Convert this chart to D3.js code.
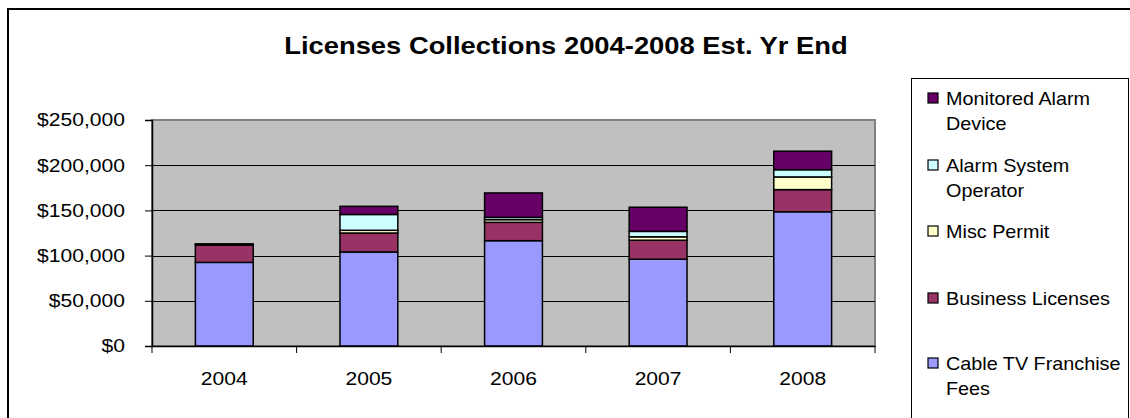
<!DOCTYPE html>
<html><head><meta charset="utf-8">
<script src="https://cdn.jsdelivr.net/npm/d3@7"></script>
<style>body{margin:0;background:#fff}svg{display:block;font-family:"Liberation Sans",Arial,sans-serif}</style>
</head><body><svg id="c" width="1130" height="418"></svg>
<script>
const years = ["2004","2005","2006","2007","2008"];
const cableTV = [92500,104000,116500,96000,148500];
const business = [19000,21000,20300,21000,24500];
const miscPermit = [0,3000,3000,3800,14000];
const alarmOperator = [300,17500,2500,6000,8000];
const monitoredAlarm = [1200,9000,27000,26700,20500];
const yTicks = [0,50000,100000,150000,200000,250000];
const seriesNames = ["Cable TV Franchise Fees","Business Licenses","Misc Permit","Alarm System Operator","Monitored Alarm Device"];
const seriesColors = ["#9999FF","#993366","#FFFFCC","#CCFFFF","#660066"];
const legendLines = [["Monitored Alarm","Device"],["Alarm System","Operator"],["Misc Permit"],["Business Licenses"],["Cable TV Franchise","Fees"]];

const seriesData = [cableTV,business,miscPermit,alarmOperator,monitoredAlarm];
const rows = years.map((y,i)=>{const r={year:y};seriesNames.forEach((n,k)=>r[n]=seriesData[k][i]);return r;});
const stack = d3.stack().keys(seriesNames)(rows);

const svg = d3.select("#c");
svg.append("rect").attr("x",8).attr("y",9).attr("width",1130).attr("height",420)
  .attr("fill","#fff").attr("stroke","#000").attr("stroke-width",2);

const L=152,R=875,T=120,B=346;
const SX=1.14;
const x = d3.scaleBand().domain(years).range([L,R]).padding(0);
const y = d3.scaleLinear().domain([0,250000]).range([B,T]);

svg.append("rect").attr("x",L).attr("y",T).attr("width",R-L).attr("height",B-T)
  .attr("fill","#C0C0C0").attr("stroke","#808080").attr("stroke-width",2);

svg.append("g").selectAll("line").data(yTicks.slice(1,-1)).join("line")
  .attr("x1",L).attr("x2",R).attr("y1",d=>Math.round(y(d))+0.5).attr("y2",d=>Math.round(y(d))+0.5)
  .attr("stroke","#000").attr("stroke-width",1);

const bw = x.bandwidth()*0.4;
svg.append("g").selectAll("g").data(stack).join("g")
  .attr("fill",(d,i)=>seriesColors[i])
  .selectAll("rect").data(d=>d).join("rect")
  .attr("x",d=>x(d.data.year)+(x.bandwidth()-bw)/2)
  .attr("y",d=>y(d[1]))
  .attr("width",bw)
  .attr("height",d=>Math.max(0,y(d[0])-y(d[1])))
  .attr("stroke","#000").attr("stroke-width",1.5);

const ya = svg.append("g").attr("transform",`translate(${L},0)`)
  .call(d3.axisLeft(y).tickValues(yTicks).tickSize(7).tickPadding(20).tickFormat(d=>"$"+d3.format(",")(d)));
ya.select(".domain").attr("stroke","#000").attr("stroke-width",1.5);
ya.selectAll(".tick text").attr("font-size",18.5).attr("fill","#000")
  .attr("font-family","Liberation Sans, Arial, sans-serif")
  .attr("x",-27/SX).attr("transform",`scale(${SX},1)`);
ya.selectAll(".tick line").attr("stroke","#000");

const xa = svg.append("g").attr("transform",`translate(0,${B})`)
  .call(d3.axisBottom(x).tickSize(0).tickPadding(26));
xa.select(".domain").attr("stroke","#000").attr("stroke-width",1.5);
xa.selectAll(".tick text").attr("font-size",18.5).attr("fill","#000")
  .attr("font-family","Liberation Sans, Arial, sans-serif")
  .attr("transform",`scale(${SX},1)`);
xa.append("g").selectAll("line").data(years.map(d=>x(d)).concat([R])).join("line")
  .attr("x1",d=>d).attr("x2",d=>d).attr("y1",0).attr("y2",7).attr("stroke","#000");

svg.append("text").attr("transform","translate(566,54) scale(1.19,1)").attr("text-anchor","middle")
  .attr("font-size",23).attr("font-weight","bold").text("Licenses Collections 2004-2008 Est. Yr End");

svg.append("rect").attr("x",911.5).attr("y",78.5).attr("width",217).attr("height",340)
  .attr("fill","#fff").attr("stroke","#000").attr("stroke-width",1);
const legTop = [98,165,231,298,363];
const legColorIdx = [4,3,2,1,0];
legendLines.forEach((lines,i)=>{
  const g = svg.append("g");
  g.append("rect").attr("x",928).attr("y",legTop[i]-5).attr("width",10).attr("height",10)
    .attr("fill",seriesColors[legColorIdx[i]]).attr("stroke","#000").attr("stroke-width",1.2);
  lines.forEach((t,j)=>{
    g.append("text").attr("transform",`translate(946,${legTop[i]+6.5+j*25}) scale(1.1,1)`)
      .attr("font-size",18).text(t);
  });
});
</script></body></html>
